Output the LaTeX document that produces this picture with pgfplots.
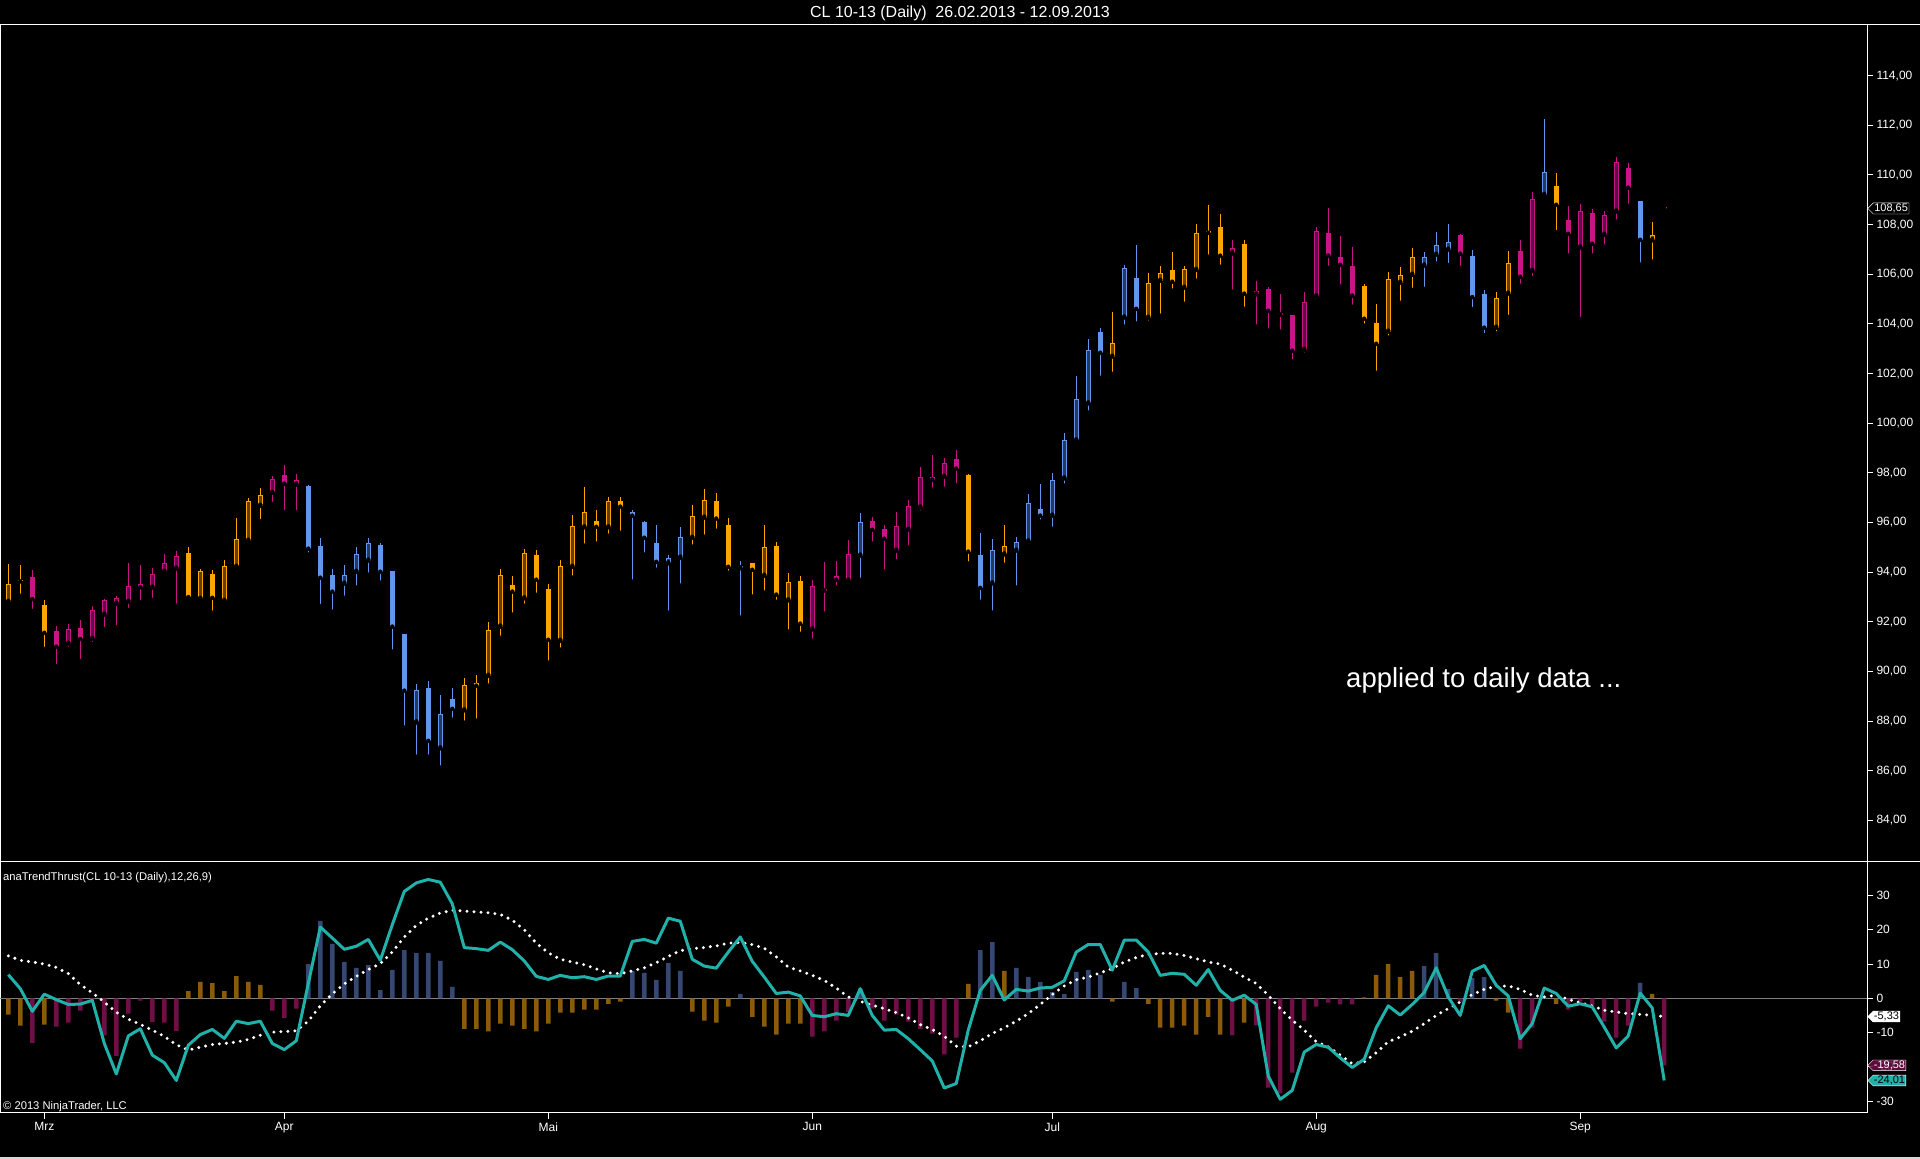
\documentclass[border=0pt]{standalone}
\usepackage{fontspec}
\setmainfont{Liberation Sans}
\usepackage{pgfplots}
\usepackage{pgfplotstable}
\pgfplotsset{compat=1.18}
\usetikzlibrary{shapes.symbols}
\definecolor{cO}{RGB}{255,165,0}
\definecolor{cB}{RGB}{100,149,237}
\definecolor{cM}{RGB}{199,21,133}
\definecolor{iO}{RGB}{95,62,0}
\definecolor{iB}{RGB}{38,58,94}
\definecolor{iM}{RGB}{94,14,69}
\definecolor{hO}{RGB}{139,90,10}
\definecolor{hB}{RGB}{52,72,115}
\definecolor{hM}{RGB}{110,15,70}
\definecolor{cyanL}{RGB}{32,178,170}
\pgfplotstableread{
i o h l c k hist tt sig
0 92.81 94.33 92.81 93.51 0 -4.8 6.9 12.4
1 93.67 94.29 93.05 93.63 0 -8.0 2.8 11.1
2 93.81 94.09 92.44 92.92 2 -13.0 -3.8 10.6
3 92.68 92.88 90.91 91.56 0 -7.7 1.2 10.0
4 91.63 91.83 90.22 91.00 2 -8.3 -0.4 9.0
5 91.12 91.91 90.91 91.71 2 -7.1 -1.8 7.2
6 91.74 92.07 90.42 91.31 2 -3.6 -1.7 4.0
7 91.32 92.64 91.11 92.46 2 -0.3 -0.6 1.6
8 92.29 92.91 91.71 92.87 2 -10.8 -13.2 -1.1
9 92.73 93.05 91.77 92.95 2 -16.8 -22.1 -4.1
10 92.81 94.37 92.48 93.43 2 -4.5 -11.0 -6.1
11 93.52 94.29 92.80 93.40 2 -0.7 -8.9 -7.6
12 93.38 94.17 92.88 93.91 2 -6.9 -16.6 -9.3
13 94.02 94.73 93.89 94.36 2 -7.1 -18.8 -11.1
14 94.14 94.85 92.65 94.64 2 -9.5 -24.0 -13.6
15 94.76 95.01 92.89 93.00 0 2.1 -13.7 -15.1
16 92.93 94.12 92.93 94.03 0 4.8 -10.6 -14.3
17 93.91 94.09 92.37 92.97 0 4.4 -9.1 -13.5
18 92.85 94.49 92.85 94.24 0 2.1 -11.7 -13.2
19 94.22 96.18 94.22 95.32 0 6.5 -6.7 -12.8
20 95.27 96.99 95.19 96.85 0 4.8 -7.4 -12.0
21 96.68 97.39 96.06 97.10 0 3.9 -6.7 -10.8
22 97.20 97.87 96.75 97.74 2 -3.6 -13.2 -9.9
23 97.91 98.32 96.42 97.57 2 -5.7 -15.0 -9.7
24 97.53 97.95 96.42 97.70 2 -3.0 -12.4 -9.5
25 97.47 97.51 94.71 94.95 1 10.0 4.3 -6.7
26 95.06 95.37 92.64 93.78 1 22.6 20.8 -2.2
27 93.89 94.13 92.41 93.22 1 15.9 17.6 1.3
28 93.54 94.29 92.97 93.87 1 10.6 14.3 4.2
29 94.02 95.02 93.38 94.72 1 8.9 15.2 6.4
30 94.47 95.38 93.90 95.16 1 9.7 17.2 8.4
31 95.10 95.18 93.58 94.02 1 2.4 11.1 10.1
32 94.05 94.05 90.80 91.81 1 8.3 21.5 13.5
33 91.51 91.51 87.74 89.23 1 14.1 31.2 17.9
34 87.95 89.50 86.57 89.24 1 13.2 33.7 21.3
35 89.34 89.62 86.57 87.21 1 13.2 34.7 23.4
36 86.91 89.05 86.13 88.28 1 10.9 33.9 24.9
37 88.89 89.32 88.06 88.50 1 3.3 27.6 25.7
38 88.44 89.73 87.94 89.44 0 -8.9 14.8 25.5
39 89.52 89.86 88.02 89.43 0 -8.9 14.5 25.2
40 89.83 91.98 89.43 91.66 0 -9.7 14.0 25.0
41 91.81 94.13 91.36 93.87 0 -7.4 16.4 24.5
42 93.47 93.85 92.29 93.22 0 -8.0 14.2 22.8
43 92.95 94.93 92.65 94.76 0 -8.9 10.9 20.0
44 94.68 94.89 93.09 93.70 0 -9.7 6.4 16.1
45 93.31 93.53 90.36 91.28 0 -7.4 5.5 13.3
46 91.24 94.49 90.88 94.24 0 -4.2 6.7 11.4
47 94.22 96.30 93.78 95.85 0 -4.2 6.0 10.6
48 95.81 97.42 95.07 96.41 0 -3.3 6.3 9.8
49 96.05 96.49 95.15 95.83 0 -3.3 5.5 8.6
50 95.81 97.02 95.47 96.85 0 -1.6 6.5 7.4
51 96.85 97.02 95.59 96.64 0 -1.0 6.5 7.2
52 96.42 96.49 93.62 96.28 1 8.0 16.6 8.0
53 96.02 96.06 94.71 95.39 1 7.4 17.2 8.9
54 95.16 95.90 94.10 94.42 1 5.4 16.1 10.4
55 94.36 94.68 92.37 94.56 1 10.3 23.4 12.2
56 94.59 95.82 93.46 95.40 1 8.0 22.5 13.9
57 95.39 96.69 95.03 96.25 0 -3.9 11.4 14.5
58 96.20 97.35 95.43 96.89 0 -6.5 9.4 14.8
59 96.85 97.19 95.67 96.16 0 -7.1 8.8 15.3
60 95.89 96.17 93.98 94.22 0 -2.4 13.5 16.1
61 94.16 94.45 92.17 94.24 1 1.3 17.9 16.3
62 94.36 94.36 93.02 94.10 0 -5.4 10.8 15.7
63 93.86 95.90 93.18 95.00 0 -8.3 6.2 14.6
64 95.04 95.22 92.81 93.10 0 -10.6 1.4 12.1
65 92.87 93.97 91.61 93.59 0 -7.4 1.8 9.1
66 93.63 93.85 91.52 91.93 0 -7.4 0.7 8.0
67 91.70 93.69 91.24 93.43 2 -11.2 -5.0 6.7
68 93.32 94.41 92.33 93.26 2 -9.7 -5.4 5.2
69 93.85 94.45 93.38 93.70 2 -6.5 -4.5 3.0
70 93.66 95.31 93.66 94.72 2 -4.0 -5.0 0.4
71 94.67 96.38 93.69 96.01 1 2.8 2.8 -0.9
72 96.05 96.22 95.15 95.71 2 -3.0 -5.0 -2.0
73 95.73 95.90 94.02 95.35 2 -6.5 -9.3 -3.0
74 94.87 96.42 94.43 95.85 2 -4.8 -9.1 -4.2
75 95.71 96.91 94.99 96.65 2 -6.8 -11.8 -5.7
76 96.61 98.24 96.40 97.82 2 -8.9 -15.0 -7.7
77 97.83 98.72 97.32 97.73 2 -10.3 -18.3 -9.1
78 97.85 98.60 97.36 98.38 2 -16.4 -26.2 -11.1
79 98.56 98.92 97.49 98.17 2 -11.5 -24.9 -14.0
80 97.92 97.96 94.35 94.83 0 4.2 -9.3 -14.2
81 94.69 95.58 92.81 93.37 1 14.1 2.3 -12.4
82 93.55 95.34 92.37 94.88 1 16.4 6.7 -10.3
83 94.72 95.90 94.30 95.06 0 8.0 -0.5 -8.6
84 94.87 95.42 93.38 95.20 1 8.9 2.6 -6.7
85 95.24 97.15 95.07 96.77 1 6.2 2.1 -4.5
86 96.53 97.55 96.04 96.28 1 4.8 3.0 -1.8
87 96.28 98.00 95.75 97.70 1 1.8 3.2 1.1
88 97.78 99.61 97.49 99.31 1 1.3 5.1 3.6
89 99.31 101.90 99.31 100.96 1 7.7 13.5 5.4
90 100.80 103.39 100.43 102.94 1 8.3 15.7 6.2
91 103.67 103.83 101.83 102.84 1 6.8 15.7 7.4
92 102.68 104.48 101.99 103.22 0 -1.0 8.2 8.7
93 104.26 106.37 103.89 106.24 1 4.8 17.0 10.6
94 105.84 107.18 104.01 104.61 1 3.0 17.0 11.9
95 104.25 106.04 104.05 105.63 0 -1.6 13.5 12.8
96 105.74 106.33 104.33 106.04 0 -8.6 6.7 13.1
97 106.17 106.90 105.34 105.70 0 -8.6 7.3 13.1
98 105.46 106.33 104.81 106.20 0 -8.0 7.0 12.5
99 106.18 108.02 105.74 107.65 0 -10.6 3.8 11.6
100 107.70 108.79 106.71 107.67 0 -5.4 8.4 10.6
101 107.89 108.43 106.30 106.75 0 -10.6 2.3 10.0
102 106.84 107.38 105.30 107.04 2 -10.8 -0.6 8.2
103 107.20 107.38 104.61 105.22 0 -7.1 0.9 6.2
104 105.19 105.73 103.89 105.31 2 -7.9 -1.8 4.3
105 105.39 105.49 103.73 104.53 2 -26.1 -22.7 0.9
106 104.43 105.20 103.69 104.38 2 -27.8 -29.5 -3.0
107 104.34 104.38 102.48 102.92 2 -21.7 -26.9 -6.4
108 102.96 105.27 102.76 104.87 2 -6.5 -15.7 -9.3
109 105.11 107.90 104.93 107.73 2 -2.4 -13.5 -12.7
110 107.65 108.67 106.26 106.75 2 -1.3 -14.3 -14.2
111 106.69 107.54 105.50 106.38 2 -1.8 -17.4 -16.6
112 106.33 107.10 104.69 105.14 2 -1.8 -20.2 -19.1
113 105.53 105.61 103.93 104.21 0 0.3 -17.8 -18.6
114 104.03 104.80 102.03 103.20 0 6.8 -8.6 -15.9
115 103.69 106.09 103.45 105.80 0 10.0 -2.2 -12.7
116 105.66 106.29 104.85 105.96 0 6.2 -4.9 -11.3
117 105.98 107.06 105.37 106.70 0 8.0 -1.8 -9.6
118 106.35 106.90 105.41 106.70 1 9.4 1.7 -7.4
119 106.79 107.70 106.43 107.18 1 13.2 8.9 -5.0
120 106.99 108.02 106.37 107.30 1 2.7 0.4 -3.0
121 107.58 107.62 106.25 106.83 2 -1.0 -5.0 -1.1
122 106.74 106.98 104.60 105.08 1 5.9 7.9 1.1
123 105.20 105.37 103.55 103.85 1 6.2 9.6 2.6
124 103.85 105.29 103.62 105.03 0 -0.7 3.8 3.5
125 105.22 106.94 104.28 106.44 0 -4.2 0.7 3.6
126 106.92 107.38 105.53 105.90 2 -14.7 -11.8 2.6
127 106.14 109.31 105.85 109.02 2 -8.6 -7.4 0.9
128 109.20 112.25 109.07 110.10 1 0.5 3.0 0.4
129 109.54 110.07 107.70 108.80 0 -1.6 1.4 0.9
130 108.17 108.74 106.75 107.63 2 -3.3 -2.3 -0.3
131 107.08 108.83 104.20 108.53 2 -1.0 -1.6 -1.3
132 108.45 108.63 106.75 107.23 2 -2.0 -2.5 -2.2
133 107.59 108.55 107.11 108.37 2 -6.8 -8.4 -3.5
134 108.53 110.72 108.12 110.51 2 -11.5 -14.5 -4.0
135 110.27 110.48 108.76 109.49 2 -8.0 -11.0 -4.5
136 108.95 108.95 106.39 107.39 1 4.5 1.5 -4.7
137 107.37 108.10 106.51 107.57 0 1.3 -2.8 -5.0
138 108.66 108.66 108.64 108.64 2 -19.6 -24.0 -5.33
}\data
\pgfplotsset{
  cndl/.style 2 args={only marks, mark=none, forget plot,
    error bars/.cd, y dir=plus, y explicit, error mark=none,
    error bar style={line width=#2, draw=#1, line cap=butt}},
}
\newcommand\candles[3]{%
  \addplot[cndl={#2}{1pt}] table[x=i,
    y expr={\thisrow{k}==#1 ? \thisrow{l} : nan},
    y error expr={\thisrow{h}-\thisrow{l}}] {\data};
  \addplot[cndl={#2}{5pt}] table[x=i,
    y expr={\thisrow{k}==#1 ? min(\thisrow{o},\thisrow{c}) : nan},
    y error expr={max(abs(\thisrow{c}-\thisrow{o}),0.07)}] {\data};
  \addplot[cndl={#3}{3pt}] table[x=i,
    y expr={(\thisrow{k}==#1 && \thisrow{c}>\thisrow{o}) ? \thisrow{o}+0.04 : nan},
    y error expr={max(\thisrow{c}-\thisrow{o}-0.08,0)}] {\data};
}
\newcommand\lblfont{\fontsize{12}{14}\selectfont}
\newcommand\boxfont{\fontsize{11}{12}\selectfont}
\begin{document}
\begin{tikzpicture}[x=1pt,y=1pt]
\path[use as bounding box] (0,0) rectangle (1920,1159);
\fill[black] (0,0) rectangle (1920,1159);
\node[text=white, font=\fontsize{16}{19}\selectfont] at (960,1146) {CL 10-13 (Daily)\ \ 26.02.2013 - 12.09.2013};
\draw[white, line width=1pt] (0,1134) -- (1920,1134);
\draw[white, line width=1pt] (0,297) -- (1920,297);
\draw[white!85!black, line width=2pt] (0,1) -- (1920,1);
\begin{axis}[
  at={(0pt,297pt)}, anchor=south west, scale only axis,
  width=1867pt, height=837pt,
  xmin=-0.694, xmax=154.9, ymin=82.33, ymax=116.04,
  axis line style={white, line width=1pt},
  xtick=\empty,
  ytick={84,86,...,114},
  ytick pos=right, yticklabel pos=right,
  tick align=outside, major tick length=6pt,
  tick style={white, line width=1pt},
  yticklabel style={text=white, font=\lblfont, /pgf/number format/.cd, fixed, fixed zerofill, precision=2, use comma, assume math mode=true},
  clip=false,
]
\candles{0}{cO}{iO}
\candles{1}{cB}{iB}
\candles{2}{cM}{iM}
\coordinate (pm) at (axis cs:154.9,108.65);
\end{axis}
\node[anchor=west, text=white, font=\fontsize{27.5}{32}\selectfont, inner sep=0pt] at (1346,479) {applied to daily data ...};
\node[signal, signal to=west, draw=white, fill=black, text=white, font=\boxfont, inner sep=1pt, anchor=west] at ([xshift=0.5pt]pm) {108,65};
\begin{axis}[
  at={(0pt,46pt)}, anchor=south west, scale only axis,
  width=1867pt, height=251pt,
  xmin=-0.694, xmax=154.9, ymin=-33.5, ymax=39.8,
  axis line style={white, line width=1pt},
  xtick={3,23,45,67,87,109,131},
  xticklabels={Mrz,Apr,Mai,Jun,Jul,Aug,Sep},
  xtick pos=bottom, xticklabel pos=bottom,
  ytick={-30,-20,...,30},
  ytick pos=right, yticklabel pos=right,
  tick align=outside, major tick length=6pt,
  tick style={white, line width=1pt},
  xticklabel style={text=white, font=\lblfont},
  yticklabel style={text=white, font=\lblfont, /pgf/number format/.cd, assume math mode=true},
  clip=false,
]
\draw[gray, line width=1pt] (axis cs:-0.694,0) -- (axis cs:154.9,0);
\addplot[ybar, bar shift=0pt, bar width=4.5pt, draw=none, fill=hO] table[x=i, y expr={\thisrow{k}==0 ? \thisrow{hist} : nan}] {\data};
\addplot[ybar, bar shift=0pt, bar width=4.5pt, draw=none, fill=hB] table[x=i, y expr={\thisrow{k}==1 ? \thisrow{hist} : nan}] {\data};
\addplot[ybar, bar shift=0pt, bar width=4.5pt, draw=none, fill=hM] table[x=i, y expr={\thisrow{k}==2 ? \thisrow{hist} : nan}] {\data};
\addplot[white, line width=3.3pt, mark=none, line cap=round, dash pattern=on 0pt off 7pt] table[x=i, y=sig] {\data};
\addplot[cyanL, line width=3pt, mark=none, line join=round] table[x=i, y=tt] {\data};
\coordinate (b1) at (axis cs:154.9,-5.33);
\coordinate (b2) at (axis cs:154.9,-19.58);
\coordinate (b3) at (axis cs:154.9,-24.01);
\end{axis}
\node[signal, signal to=west, draw=white, fill=white, text=black, font=\boxfont, inner sep=0.8pt, anchor=west] at ([xshift=0.5pt]b1) {-5,33};
\node[signal, signal to=west, draw=white, fill=hM, fill opacity=0.85, text opacity=1, text=white, font=\boxfont, inner sep=0.8pt, anchor=west] at ([xshift=0.5pt]b2) {-19,58};
\node[signal, signal to=west, draw=white, fill=cyanL, text=black, font=\boxfont, inner sep=0.8pt, anchor=west] at ([xshift=0.5pt]b3) {-24,01};
\node[anchor=west, text=white, font=\fontsize{11.2}{13}\selectfont, inner sep=0pt] at (3,281) {anaTrendThrust(CL 10-13 (Daily),12,26,9)};
\node[anchor=west, text=white, font=\fontsize{11.2}{13}\selectfont, inner sep=0pt] at (3,52) {\textcopyright{} 2013 NinjaTrader, LLC};
\end{tikzpicture}
\end{document}
